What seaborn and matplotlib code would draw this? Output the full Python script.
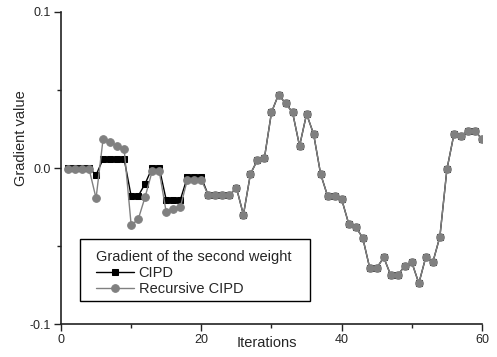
import numpy as np
import pandas as pd
import seaborn as sns
import matplotlib
matplotlib.use("Agg")
import matplotlib.pyplot as plt
from matplotlib.ticker import MultipleLocator
from matplotlib.patches import Rectangle

# values
iterations = list(range(1, 61))
cipd = [0.0, 0.0, 0.0, 0.0, -0.0045, 0.0058, 0.0058, 0.0058, 0.0058, -0.018,
        -0.018, -0.0100, 0.0002, 0.0002, -0.0205, -0.0205, -0.0205, -0.006, -0.006, -0.006,
        -0.0175, -0.0175, -0.0175, -0.0175, -0.0126, -0.030, -0.0038, 0.0051, 0.0066, 0.0357,
        0.047, 0.0415, 0.0357, 0.0141, 0.0346, 0.0218, -0.0038, -0.018, -0.018, -0.020,
        -0.0357, -0.0378, -0.0447, -0.0641, -0.0641, -0.0573, -0.0688, -0.0688, -0.0626, -0.0605,
        -0.0739, -0.057, -0.0603, -0.044, -0.0009, 0.0216, 0.0207, 0.0239, 0.0239, 0.0184]
recursive_head = [-0.0005, -0.0005, -0.0005, -0.0005, -0.0194, 0.0186, 0.0165, 0.0143, 0.0122, -0.0365,
                  -0.033, -0.0184, -0.002, -0.002, -0.0284, -0.0265, -0.0252, -0.0077, -0.0077, -0.0077]
recursive = recursive_head + cipd[20:]

df = pd.DataFrame({"Iterations": iterations, "CIPD": cipd, "Recursive CIPD": recursive})

sns.set_style("ticks")
plt.rcParams['font.family'] = ['Liberation Sans', 'DejaVu Sans']

fig = plt.figure(figsize=(4.97, 3.57), dpi=100)
ax = fig.add_axes([0.1227, 0.0924, 0.8471, 0.874])

sns.lineplot(data=df, x="Iterations", y="CIPD", ax=ax, color="black", marker="s",
             markersize=5, markeredgecolor="black", linewidth=1.0, label="CIPD")
sns.lineplot(data=df, x="Iterations", y="Recursive CIPD", ax=ax, color="#808080", marker="o",
             markersize=5.5, markeredgecolor="#808080", linewidth=1.0, label="Recursive CIPD")

ax.set_xlim(0, 60)
ax.set_ylim(-0.1, 0.1)
ax.set_xticks([0, 20, 40, 60])
ax.set_yticks([-0.1, 0.0, 0.1])
ax.set_yticklabels(["-0.1", "0.0", "0.1"])
ax.xaxis.set_minor_locator(MultipleLocator(10))
ax.yaxis.set_minor_locator(MultipleLocator(0.05))
ax.tick_params(which="major", length=5, width=1, labelsize=9, color="#222222", pad=2)
ax.tick_params(which="minor", length=3, width=1, color="#222222")
for side in ["top", "right"]:
    ax.spines[side].set_visible(False)
for side in ["left", "bottom"]:
    ax.spines[side].set_linewidth(1.2)
    ax.spines[side].set_color("#222222")

ax.set_xlabel("Iterations", fontsize=10.5)
ax.xaxis.set_label_coords(0.49, -0.04)
ax.set_ylabel("Gradient value", fontsize=10.5)
ax.yaxis.set_label_coords(-0.078, 0.596)

# legend box drawn separately so the padding matches
ax.add_patch(Rectangle((0.0451, 0.0737), 0.546, 0.1987, transform=ax.transAxes,
                       facecolor="white", edgecolor="black", linewidth=1, zorder=5))
leg = ax.legend(title="Gradient of the second weight", loc="upper left",
                bbox_to_anchor=(0.084, 0.238), fontsize=10.5, title_fontsize=10.5,
                frameon=False, handlelength=2.6, borderpad=0, borderaxespad=0,
                labelspacing=0.15, handletextpad=0.3)
leg._legend_box.align = "left"
leg.set_zorder(6)

fig.savefig("out.png", dpi=100)
